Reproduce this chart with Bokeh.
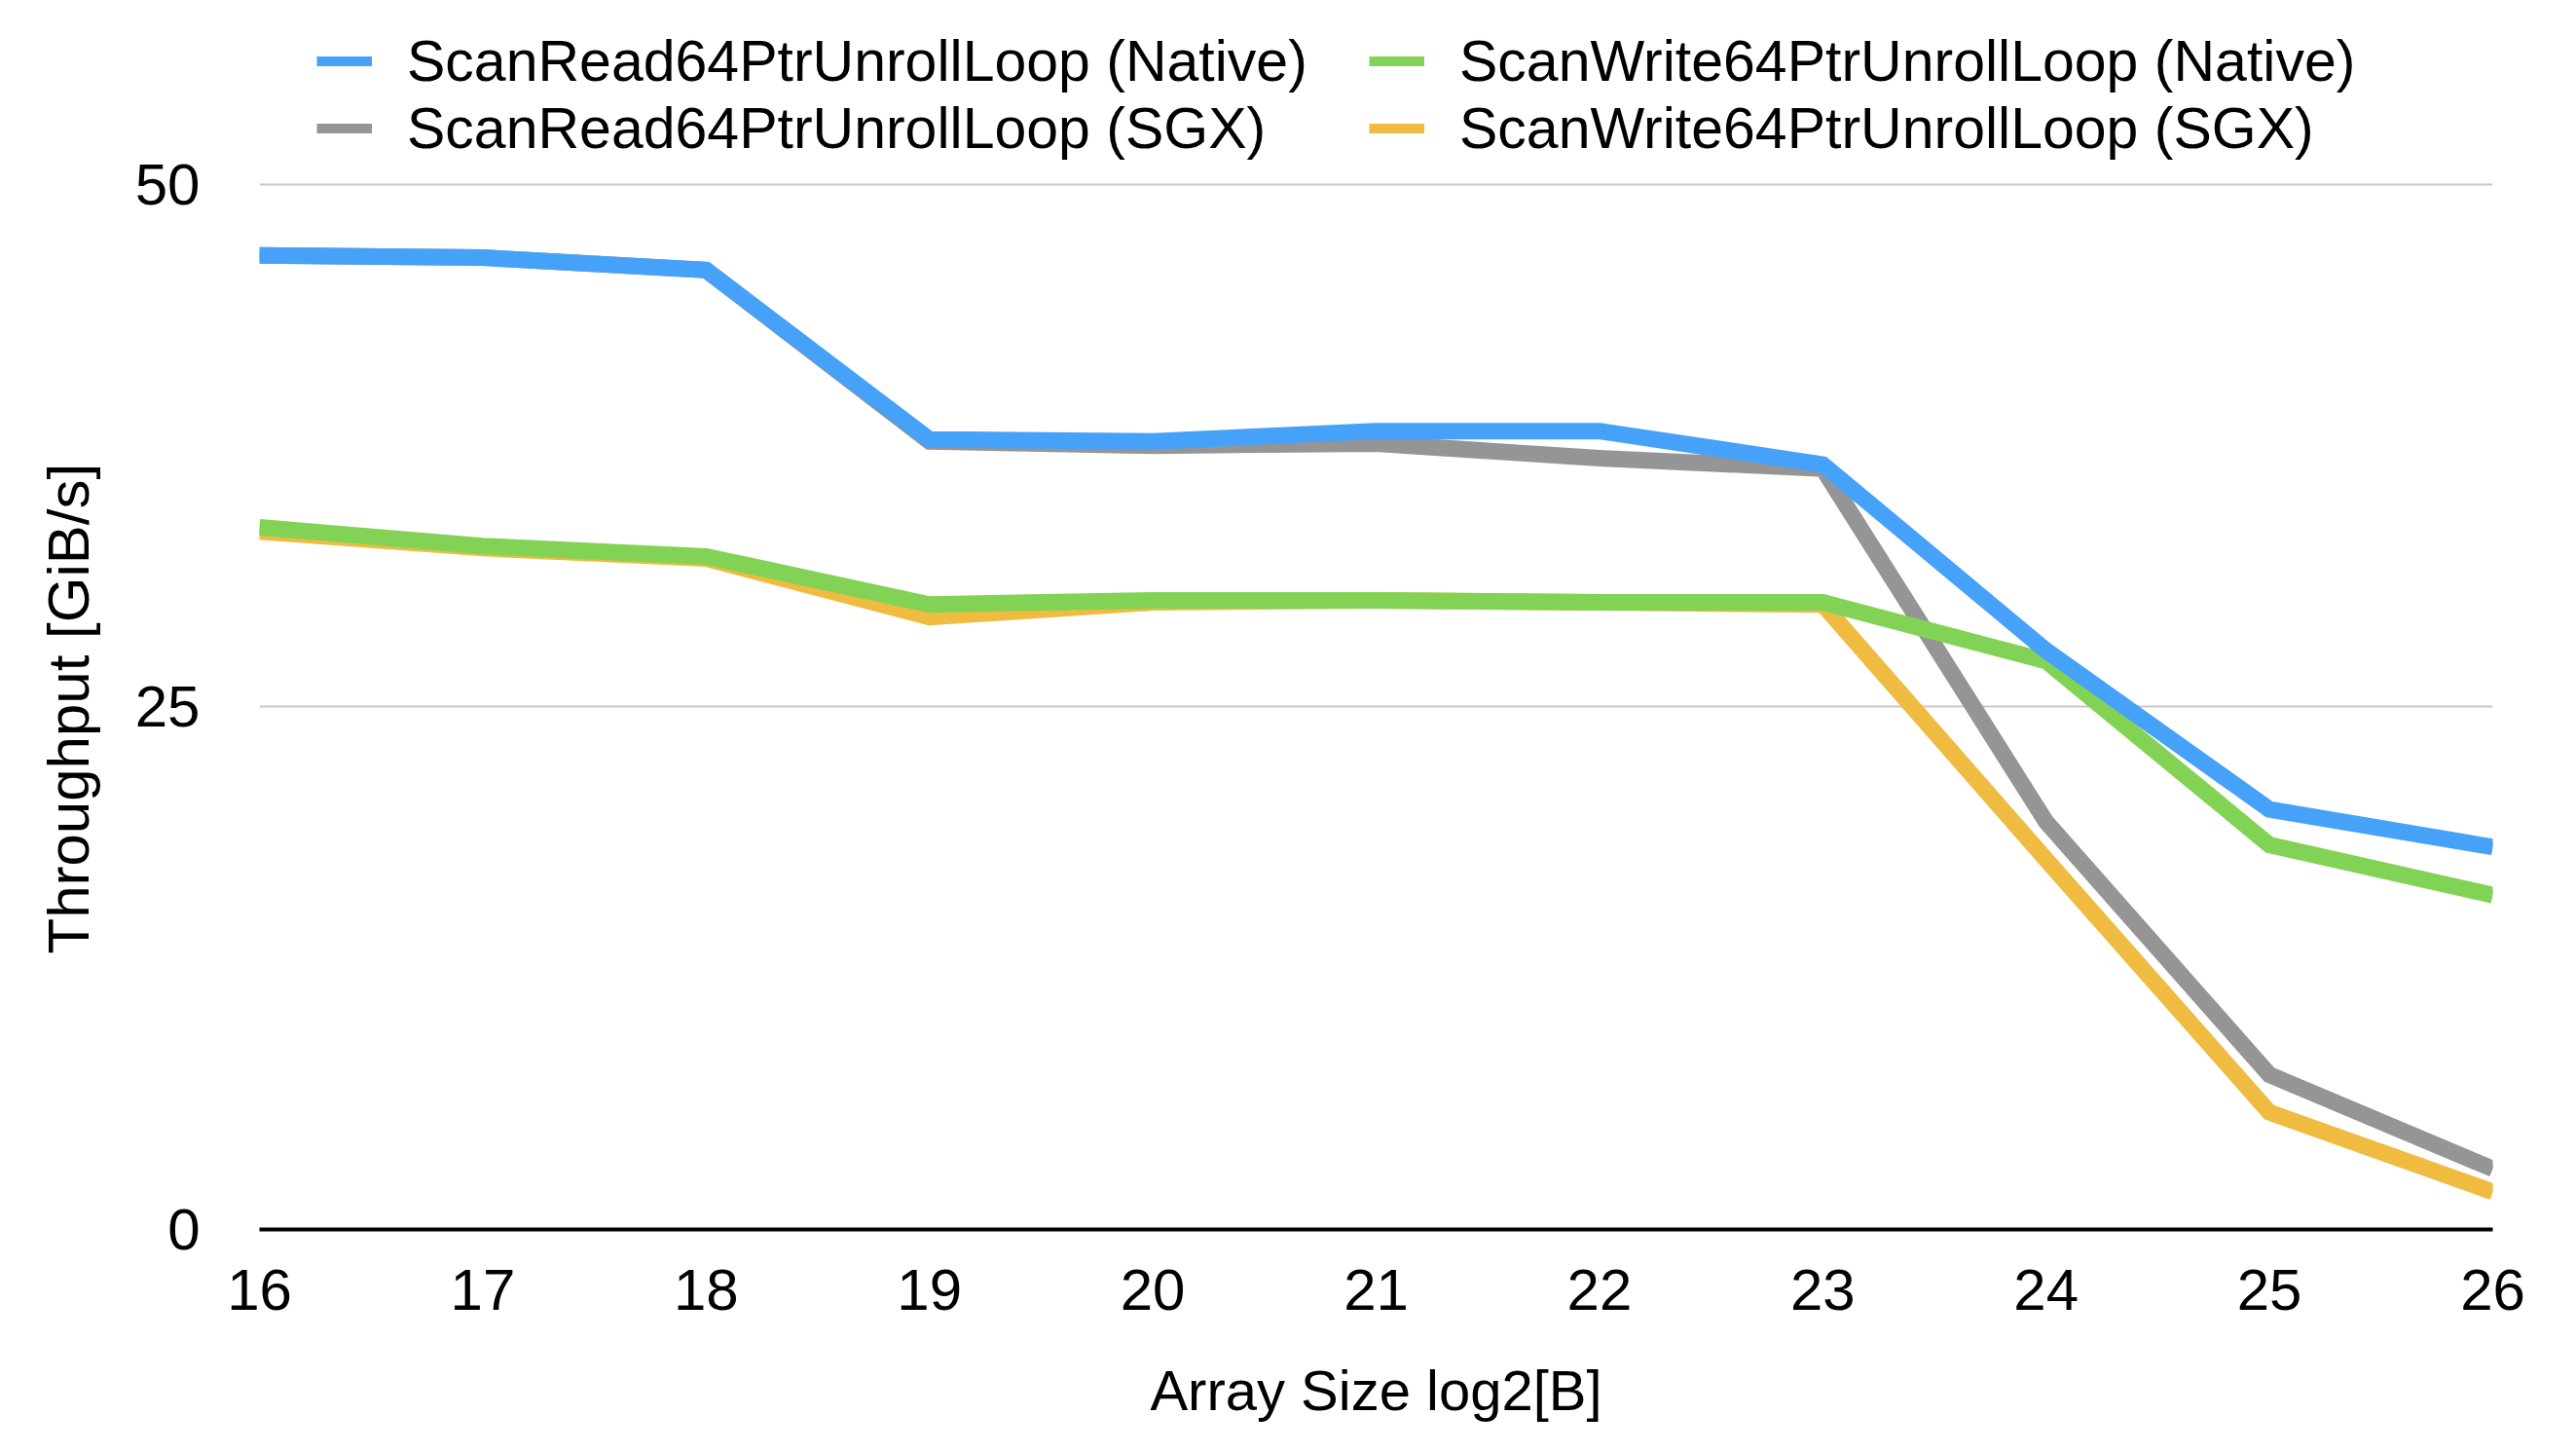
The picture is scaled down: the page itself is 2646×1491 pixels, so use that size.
from bokeh.plotting import figure
from bokeh.models import Range1d, Legend, LegendItem, FixedTicker, Title
from bokeh.embed import file_html
from bokeh.resources import INLINE

sizes = [16, 17, 18, 19, 20, 21, 22, 23, 24, 25, 26]
read_native = [46.6, 46.5, 45.9, 37.8, 37.7, 38.2, 38.2, 36.6, 27.7, 20.1, 18.3]
read_sgx = [46.6, 46.5, 45.9, 37.7, 37.5, 37.6, 36.9, 36.4, 19.5, 7.4, 2.9]
write_native = [33.6, 32.7, 32.2, 29.9, 30.1, 30.1, 30.0, 30.0, 27.2, 18.4, 16.0]
write_sgx = [33.4, 32.6, 32.1, 29.3, 30.0, 30.1, 30.0, 29.9, 17.7, 5.6, 1.8]

labels = ["ScanRead64PtrUnrollLoop (Native)", "ScanWrite64PtrUnrollLoop (Native)",
          "ScanRead64PtrUnrollLoop (SGX)", "ScanWrite64PtrUnrollLoop (SGX)"]
y_ticks = [0, 25, 50]
x_ticks = sizes

BLUE = "#45A2F8"
GRAY = "#959595"
GREEN = "#82D355"
ORANGE = "#EFBB40"
FONT = "Liberation Sans"

# the frame is extended upwards (above 50) so the legend can sit inside it
Y_TOP = 58.8

p = figure(width=2630, height=1475, output_backend="svg", toolbar_location=None,
           x_range=Range1d(16, 26), y_range=Range1d(0, Y_TOP),
           min_border_left=266, min_border_right=70, min_border_top=0, min_border_bottom=213)
p.outline_line_color = None
p.background_fill_color = "white"
p.border_fill_color = "white"

series = [(read_native, BLUE), (write_native, GREEN), (read_sgx, GRAY), (write_sgx, ORANGE)]

# thin copies (hidden under the thick lines) that give the legend its thinner stroke
thin = [p.line(sizes, ys, line_color=c, line_width=10, line_join="miter") for ys, c in series]

LW = 17
# drawing order: orange, gray, green, blue (blue on top)
p.line(sizes, write_sgx, line_color=ORANGE, line_width=LW, line_join="miter")
p.line(sizes, read_sgx, line_color=GRAY, line_width=LW, line_join="miter")
p.line(sizes, write_native, line_color=GREEN, line_width=LW, line_join="miter")
p.line(sizes, read_native, line_color=BLUE, line_width=LW, line_join="miter")

legend = Legend(items=[LegendItem(label=lab, renderers=[r]) for lab, r in zip(labels, thin)],
                orientation="horizontal", ncols=2,
                location=(59, 1096))
legend.label_text_font = FONT
legend.label_text_font_size = "59px"
legend.label_text_color = "black"
legend.glyph_width = 57
legend.glyph_height = 69
legend.label_height = 69
legend.label_width = 988
legend.label_standoff = 36
legend.spacing = 0
legend.padding = 0
legend.margin = 0
legend.border_line_color = None
legend.background_fill_alpha = 0
p.add_layout(legend, "center")

# grid
p.xgrid.grid_line_color = None
p.ygrid.grid_line_color = "#C8C8C8"
p.ygrid.grid_line_width = 2
p.ygrid.ticker = FixedTicker(ticks=y_ticks)

# y axis
p.yaxis.ticker = FixedTicker(ticks=y_ticks)
p.yaxis.axis_line_color = None
p.yaxis.major_tick_line_color = None
p.yaxis.minor_tick_line_color = None
p.yaxis.major_tick_out = 0
p.yaxis.major_tick_in = 0
p.yaxis.major_label_standoff = 61
p.yaxis.major_label_text_font = FONT
p.yaxis.major_label_text_font_size = "60px"
p.yaxis.major_label_text_color = "black"

ytitle = Title(text="Throughput [GiB/s]", align="left", offset=283, standoff=64,
               text_font=FONT, text_font_size="60px", text_font_style="normal",
               text_color="black")
p.add_layout(ytitle, "left")

# x axis
p.xaxis.ticker = FixedTicker(ticks=x_ticks)
p.xaxis.axis_line_color = "black"
p.xaxis.axis_line_width = 4
p.xaxis.major_tick_line_color = None
p.xaxis.minor_tick_line_color = None
p.xaxis.major_tick_out = 0
p.xaxis.major_tick_in = 0
p.xaxis.major_label_standoff = 41
p.xaxis.major_label_text_font = FONT
p.xaxis.major_label_text_font_size = "60px"
p.xaxis.major_label_text_color = "black"
p.xaxis.axis_label = "Array Size log2[B]"
p.xaxis.axis_label_text_font = FONT
p.xaxis.axis_label_text_font_size = "58px"
p.xaxis.axis_label_text_font_style = "normal"
p.xaxis.axis_label_text_color = "black"
p.xaxis.axis_label_standoff = 47

open("out.html", "w").write(file_html(p, INLINE))
